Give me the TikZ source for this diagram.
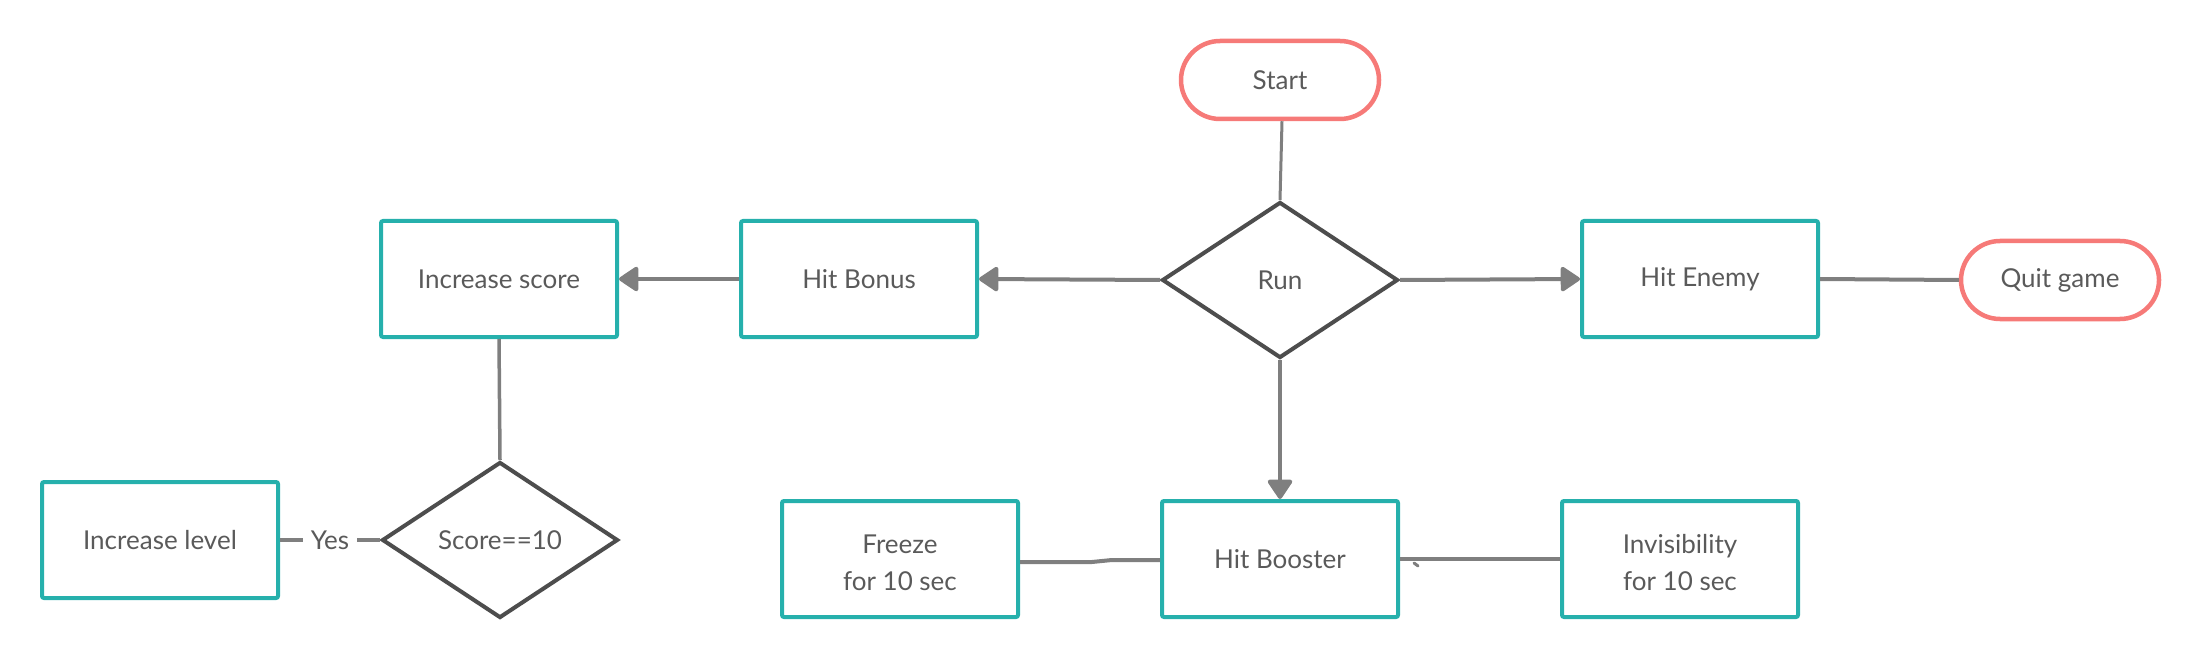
\documentclass[tikz,border=0pt]{standalone}
\usepackage{fontspec}
\setmainfont{Lato}
\usetikzlibrary{shapes.geometric,shapes.misc,arrows.meta}
\definecolor{teal}{RGB}{38,176,172}
\definecolor{pinkred}{RGB}{246,122,120}
\definecolor{dkgray}{RGB}{77,77,77}
\definecolor{conngray}{RGB}{127,127,127}
\definecolor{txtgray}{RGB}{90,90,90}
\tikzset{
  lbl/.style={text=txtgray, font=\fontsize{26}{37}\selectfont},
  procbox/.style={lbl, rectangle, draw=teal, line width=4pt, rounded corners=2pt,
    minimum width=236pt, minimum height=116pt, inner sep=0pt, align=center},
  termbox/.style={lbl, rounded rectangle, draw=pinkred, line width=4.5pt,
    minimum width=198pt, minimum height=78pt, inner sep=0pt},
  decbox/.style={lbl, diamond, draw=dkgray, line width=4pt, shape aspect=1.5,
    minimum width=236pt, minimum height=156pt, inner sep=0pt},
  conn/.style={draw=conngray, line width=4pt},
  thinconn/.style={draw=conngray, line width=3pt},
  arr/.style={conn, -{Triangle[length=21pt,width=27pt,round]}},
}
\begin{document}
\begin{tikzpicture}[x=1pt,y=-1pt]
\useasboundingbox (0,0) rectangle (2200,660);
\node[termbox] (start) at (1280,80) {Start};
\node[decbox] (run) at (1280,280) {Run};
\node[procbox] (incscore) at (499,279) {Increase score};
\node[procbox] (bonus) at (859,279) {Hit Bonus};
\node[procbox] (enemy) at (1700,279) {Hit Enemy};
\node[termbox] (quit) at (2060,280) {Quit game};
\node[decbox] (score) at (500,540) {Score==10};
\node[procbox] (inclevel) at (160,540) {Increase level};
\node[procbox] (freeze) at (900,559) {\strut Freeze\\for 10 sec};
\node[procbox] (booster) at (1280,559) {Hit Booster};
\node[procbox] (invis) at (1680,559) {\strut Invisibility\\for 10 sec};

\draw[thinconn] ([xshift=2pt]start.south) -- (run.north);
\draw[arr] (run.west) -- (bonus.east);
\draw[arr] (bonus.west) -- (incscore.east);
\draw[arr] (run.east) -- (enemy.west);
\draw[conn] (enemy.east) -- (quit.west);
\draw[thinconn, line width=3.5pt] (incscore.south) -- (score.north);
\draw[conn] (score.west) -- node[lbl, fill=white, inner sep=8pt] {Yes} (inclevel.east);
\draw[arr] (run.south) -- (booster.north);
\coordinate (fk1) at (1092,562);
\coordinate (fk2) at (1112,560);
\draw[conn] (freeze.east |- fk1) -- (fk1) -- (fk2) -- (booster.west |- fk2);
\draw[conn] (invis.west) -- (booster.east);
\draw[conn, line width=3pt, line cap=round] (1414,563) -- (1418,566);
\end{tikzpicture}
\end{document}
